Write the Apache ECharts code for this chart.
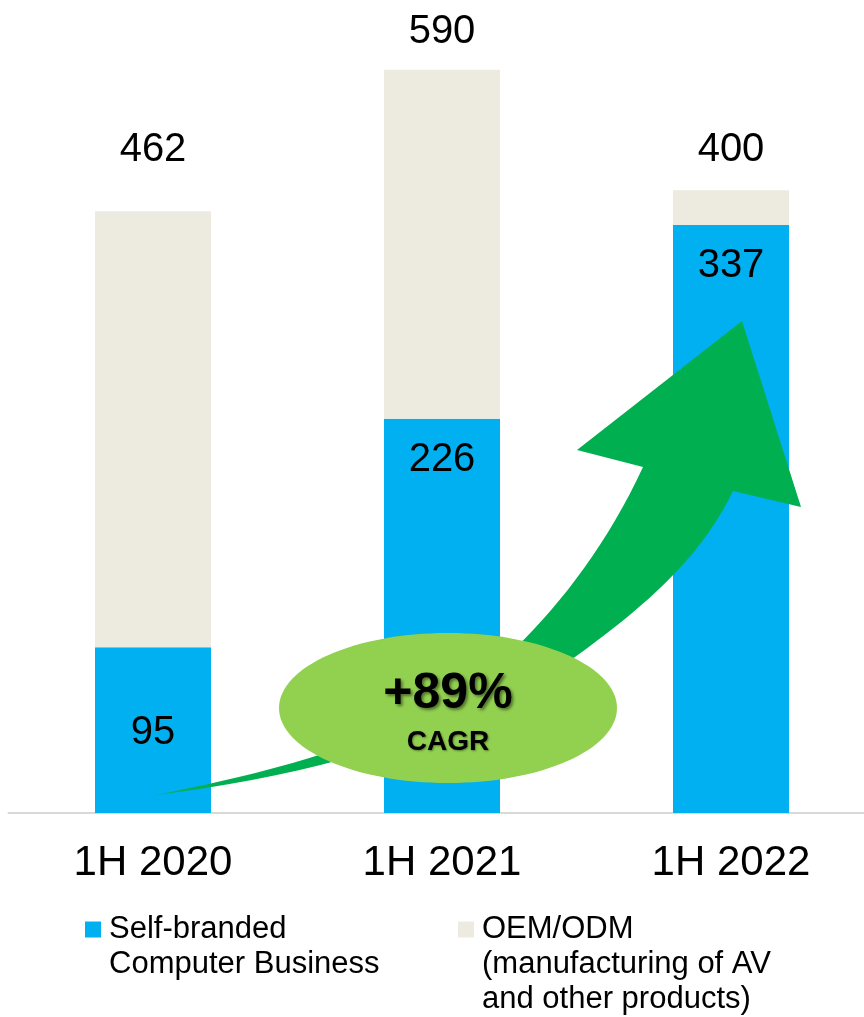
<!DOCTYPE html>
<html>
<head>
<meta charset="utf-8">
<title>Revenue by business</title>
<script src="https://cdn.jsdelivr.net/npm/echarts@6/dist/echarts.min.js"></script>
<style>
  html, body { margin: 0; padding: 0; background: #fff; }
  #main { width: 864px; height: 1017px; }
</style>
</head>
<body>
<div id="main"></div>
<script>
// categories and values
var periods = ['1H 2020', '1H 2021', '1H 2022'];
var selfBranded = [95, 226, 337];
var totals = [462, 590, 400];
// grey segment as drawn in the source slide (it is not to scale with the totals)
var oemDrawn = [250, 200, 20];
var seriesNames = ['Self-branded\nComputer Business', 'OEM/ODM\n(manufacturing of AV\nand other products)'];
var cagrText = '+89%';

var FONT = '"Liberation Sans", Arial, sans-serif';
var BLUE = '#00B0F0';
var GREY = '#EDEBE0';

var myChart = echarts.init(document.getElementById('main'));

// label placement differs per bar on the slide
var selfLabelPos = ['inside', 'insideTop', 'insideTop'];
var totalLabelDist = [44, 21, 23];

var selfData = selfBranded.map(function (v, i) {
  return { value: v, label: { position: selfLabelPos[i] } };
});
var oemData = oemDrawn.map(function (v, i) {
  return { value: v, label: { distance: totalLabelDist[i] } };
});

// curved growth arrow, built from cubic segments into a polygon
function cubic(p0, p1, p2, p3, n) {
  var out = [];
  for (var i = 1; i <= n; i++) {
    var t = i / n, u = 1 - t;
    out.push([
      u * u * u * p0[0] + 3 * u * u * t * p1[0] + 3 * u * t * t * p2[0] + t * t * t * p3[0],
      u * u * u * p0[1] + 3 * u * u * t * p1[1] + 3 * u * t * t * p2[1] + t * t * t * p3[1]
    ]);
  }
  return out;
}
var arrowPts = [[155, 795]]
  .concat(cubic([155, 795], [260, 775], [400, 740], [480, 680], 20))
  .concat(cubic([480, 680], [540, 630], [600, 560], [643, 467], 20))
  .concat([[577, 450], [742, 321], [801, 507], [733, 491]])
  .concat(cubic([733, 491], [700, 560], [640, 610], [575, 657], 20))
  .concat(cubic([575, 657], [470, 730], [320, 775], [155, 795], 20));

// legend text: blank lines in front keep the square level with the first line
function legendText(name) {
  var n = name.split('\n').length;
  return new Array(n).join('\n') + name;
}

var option = {
  animation: false,
  grid: { left: 8.5, width: 867, top: 28, height: 785, outerBoundsMode: 'none', containLabel: false },
  xAxis: {
    type: 'category',
    data: periods,
    axisLine: { lineStyle: { color: '#D9D9D9', width: 2 } },
    axisTick: { show: false },
    axisLabel: { fontSize: 42, lineHeight: 42, color: '#000', fontFamily: FONT, margin: 29 }
  },
  yAxis: { type: 'value', min: 0, max: 450, show: false, splitLine: { show: false } },
  legend: [
    {
      data: [seriesNames[0]], left: 85, top: 877, padding: 0, selectedMode: false,
      icon: 'rect', itemWidth: 16, itemHeight: 16, formatter: legendText,
      textStyle: { fontSize: 31, lineHeight: 35, color: '#000', fontFamily: FONT, padding: [0, 0, 0, 3] }
    },
    {
      data: [seriesNames[1]], left: 458, top: 842, padding: 0, selectedMode: false,
      icon: 'rect', itemWidth: 16, itemHeight: 16, formatter: legendText,
      textStyle: { fontSize: 31, lineHeight: 35, color: '#000', fontFamily: FONT, padding: [0, 0, 0, 3] }
    }
  ],
  series: [
    {
      name: seriesNames[0], type: 'bar', stack: 'rev', barWidth: 116,
      itemStyle: { color: BLUE },
      label: { show: true, distance: 18, offset: [0, 3], fontSize: 40, lineHeight: 40, color: '#000', fontFamily: FONT },
      data: selfData
    },
    {
      name: seriesNames[1], type: 'bar', stack: 'rev', barWidth: 116,
      itemStyle: { color: GREY },
      label: {
        show: true, position: 'top', offset: [0, 3], fontSize: 40, lineHeight: 40, color: '#000', fontFamily: FONT,
        formatter: function (p) { return totals[p.dataIndex]; }
      },
      data: oemData
    }
  ],
  graphic: [
    { type: 'polygon', z: 10, shape: { points: arrowPts }, style: { fill: '#00B050' } },
    { type: 'ellipse', z: 11, shape: { cx: 448, cy: 708, rx: 169, ry: 75 }, style: { fill: '#92D050' } },
    {
      type: 'text', z: 12, x: 448, y: 694,
      style: {
        text: cagrText, fontSize: 50, fontWeight: 'bold', fontFamily: FONT, fill: '#000',
        align: 'center', verticalAlign: 'middle',
        textShadowColor: 'rgba(0,0,0,0.45)', textShadowBlur: 3, textShadowOffsetX: 2, textShadowOffsetY: 2
      }
    },
    {
      type: 'text', z: 12, x: 448, y: 742,
      style: {
        text: 'CAGR', fontSize: 28, fontWeight: 'bold', fontFamily: FONT, fill: '#000',
        align: 'center', verticalAlign: 'middle',
        textShadowColor: 'rgba(0,0,0,0.4)', textShadowBlur: 2, textShadowOffsetX: 1, textShadowOffsetY: 1
      }
    }
  ]
};

myChart.setOption(option);
</script>
</body>
</html>
